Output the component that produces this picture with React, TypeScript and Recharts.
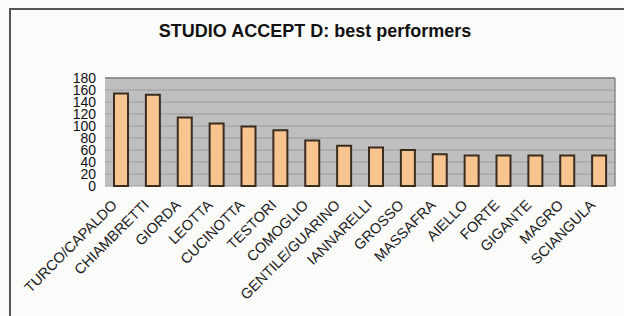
import { BarChart, Bar, XAxis, YAxis, CartesianGrid, ReferenceLine } from 'recharts'

const performers = [
  'TURCO/CAPALDO',
  'CHIAMBRETTI',
  'GIORDA',
  'LEOTTA',
  'CUCINOTTA',
  'TESTORI',
  'COMOGLIO',
  'GENTILE/GUARINO',
  'IANNARELLI',
  'GROSSO',
  'MASSAFRA',
  'AIELLO',
  'FORTE',
  'GIGANTE',
  'MAGRO',
  'SCIANGULA',
]
const scores = [154, 152, 114, 104, 99, 93, 76, 67, 64, 60, 53, 51, 51, 51, 51, 51]
const yTicks = [0, 20, 40, 60, 80, 100, 120, 140, 160, 180]

const data = performers.map((name, i) => ({ name, score: scores[i] }))

// rotated category label, anchored at its right end under the bar
function SlantTick({ x, y, payload }: any) {
  return (
    <g transform={`translate(${x - 3},${y + 20})`}>
      <text
        textAnchor="end"
        transform="rotate(-45)"
        fontSize={14.5}
        fontFamily="'Liberation Sans', Arial, sans-serif"
        fill="#1a1a1a"
      >
        {payload.value}
      </text>
    </g>
  )
}

export default function App() {
  return (
    <div style={{ position: 'absolute', left: 0, top: 0, width: 624, height: 316, background: '#fbfbfa', overflow: 'hidden' }}>
      {/* frame */}
      <div
        style={{
          position: 'absolute',
          left: 9,
          top: 8,
          width: 640,
          height: 340,
          borderTop: '2px solid #555',
          borderLeft: '2px solid #555',
        }}
      />
      <div
        style={{
          position: 'absolute',
          left: 0,
          top: 21,
          width: 630,
          textAlign: 'center',
          fontFamily: "'Liberation Sans', Arial, sans-serif",
          fontWeight: 'bold',
          fontSize: 18,
          color: '#111',
        }}
      >
        STUDIO ACCEPT D: best performers
      </div>
      <div style={{ position: 'absolute', left: 0, top: 0 }}>
        <BarChart width={624} height={316} data={data} margin={{ top: 78, right: 8, bottom: 0, left: 0 }}>
          <CartesianGrid vertical={false} stroke="#9c9c9c" fill="#bfbfbf" />
          <XAxis
            dataKey="name"
            interval={0}
            height={130}
            tickLine={false}
            axisLine={false}
            tickSize={0}
            tickMargin={0}
            tick={<SlantTick />}
          />
          <YAxis
            domain={[0, 180]}
            ticks={yTicks}
            interval={0}
            width={105}
            tickLine={false}
            axisLine={false}
            tickSize={0}
            tickMargin={9}
            tick={{ fill: '#111', fontSize: 14, fontFamily: "'Liberation Sans', Arial, sans-serif" }}
          />
          <YAxis yAxisId="right" orientation="right" width={1} domain={[0, 180]} tick={false} tickLine={false} axisLine={{ stroke: '#8a8a8a', strokeWidth: 1.5 }} />
          <ReferenceLine y={180} stroke="#858585" strokeWidth={1.5} />
          <Bar
            dataKey="score"
            barSize={14}
            fill="#f8c48f"
            stroke="#3b2c20"
            strokeWidth={2}
            isAnimationActive={false}
          />
        </BarChart>
      </div>
    </div>
  )
}
